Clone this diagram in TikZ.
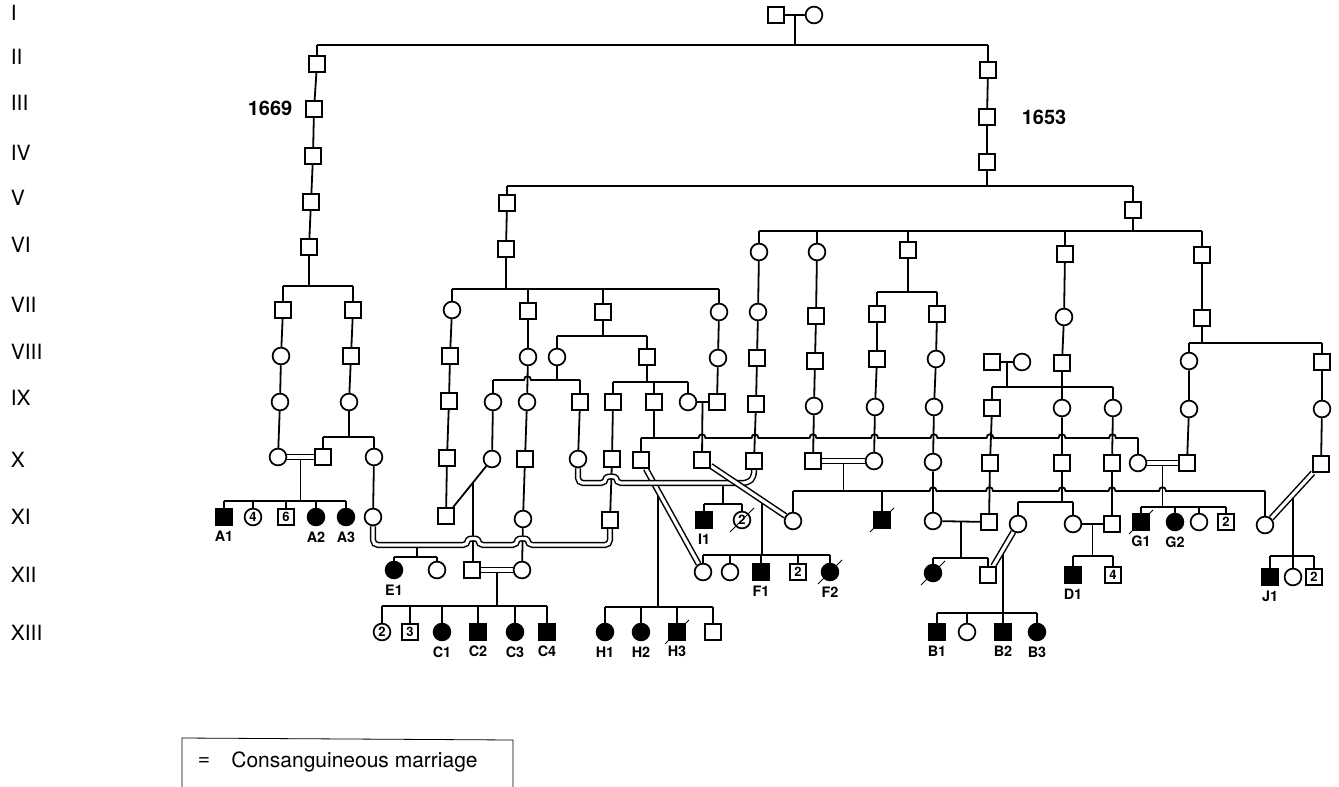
\documentclass[tikz,border=0pt]{standalone}
\usepackage{fontspec}
\setmainfont{TeX Gyre Heros}
\usetikzlibrary{calc,backgrounds}
\newcommand\kids[2]{\path (0,#1) coordinate (kidsy);\foreach \n in {#2}{\draw (\n.north) -- (\n.north |- kidsy);}}
\newcommand\sibbar[4]{\draw (#2,#1) -- (#3,#1);\kids{#1}{#4}}
\newcommand\dropto[2]{\path (0,#2) coordinate (dropy);\draw (#1) -- (#1 |- dropy);}
\tikzset{
 sq/.style={draw,rectangle,minimum size=8pt,inner sep=0pt,fill=white,line width=0.85pt},
 ci/.style={draw,circle,minimum size=8.4pt,inner sep=0pt,fill=white,line width=0.85pt},
 aff/.style={fill=black},
 num/.style={font=\fontsize{6.5}{6.5}\selectfont\bfseries},
 lab/.style={font=\fontsize{7.2}{7.2}\selectfont\bfseries,inner sep=0pt,anchor=north},
 gen/.style={font=\fontsize{10.5}{10.5}\selectfont,anchor=west,inner sep=0pt},
 yr/.style={font=\fontsize{10}{10}\selectfont\bfseries,inner sep=0pt},
 leg/.style={font=\fontsize{10.5}{10.5}\selectfont,inner sep=0pt},
 cons/.style={double=white,double distance=1.6pt,line width=0.75pt},
}
\begin{document}
\begin{tikzpicture}[x=0.5pt,y=-0.5pt,line width=0.9pt]
\useasboundingbox (0,0) rectangle (1339,787);
% generation numerals
\foreach \t/\y in {I/13,II/57,III/103,IV/153,V/198,VI/245,VII/305,VIII/352,IX/398,X/460,XI/517,XII/575,XIII/633}
  \node[gen] (gen\t) at (10,\y) {\t};
% open squares
\foreach \n/\x/\y in {a776/776/15,b317/317/64,b988/988/70,c314/314/109,c987/987/117,d313/313/156,d987/987/162,
 e311/311/202,e507/507/203,e1133/1133/210,f309/309/247,f506/506/249,f908/908/250,f1065/1065/254,f1202/1202/255,
 g283/283/310,g353/353/310,g528/528/311,g603/603/312,g816/816/316,g877/877/314,g937/937/314,g1202/1202/318,
 h351/351/356,h450/450/356,h647/647/357,h757/757/358,h815/815/361,h877/877/359,h992/992/362,h1062/1062/363,h1322/1322/362,
 i449/449/401,i580/580/402,i613/613/402,i654/654/402,i717/717/402,i756/756/404,i992/992/408,
 j323/323/457,j447/447/458,j525/525/459,j612/612/459,j641/641/460,j702/702/460,j754/754/461,j813/813/461,j990/990/463,
 j1062/1062/463,j1112/1112/463,j1187/1187/463,j1321/1321/464,
 k446/446/516,k610/610/520,k989/989/522,k1112/1112/524,l472/472/570,l988/988/575,m713/713/632}
  \node[sq] (\n) at (\x,\y) {};
% open circles
\foreach \n/\x/\y in {a815/814/15,f759/759/252,f817/817/252,g452/452/310,g719/719/312,g758/758/312,g1064/1064/317,
 h281/281/356,h528/528/357,h557/557/357,h718/718/358,h936/936/359,h1022/1022/362,h1189/1189/361,
 i280/280/402,i349/349/402,i493/493/402,i527/527/402,i688/688/402,i814/814/406,i875/875/407,i934/934/407,
 i1062/1062/408,i1113/1113/408,i1189/1189/409,i1322/1322/409,
 j278/278/457,j374/374/457,j492/492/459,j578/578/459,j874/874/461,j933/933/462,j1138/1138/463,
 k373/373/517,k523/523/519,k793/793/521,k933/933/521,k1018/1018/524,k1073/1073/524,k1199/1199/522,k1265/1265/525,
 l437/437/570,l522/522/570,l703/703/572,l730/730/572,l1293/1293/577,m967/967/632}
  \node[ci] (\n) at (\x,\y) {};
% affected
\foreach \n/\x/\y in {k224/224/517,k704/704/520,k882/882/520,k1140/1141/522,l761/761/572,l1073/1073/575,l1270/1270/577,
 m478/478/632,m547/547/632,m677/677/632,m937/937/632,m1003/1003/632}
  \node[sq,aff] (\n) at (\x,\y) {};
\foreach \n/\x/\y in {k316/316/517,k346/346/517,k1175/1175/522,l394/394/570,l830/830/572,l933/933/573,
 m442/442/632,m515/515/632,m605/605/632,m641/641/632,m1037/1037/632}
  \node[ci,aff] (\n) at (\x,\y) {};
% numbered
\foreach \n/\x/\y/\k in {k286/286/517/6,k1226/1226/522/2,l798/798/572/2,l1113/1113/575/4,l1314/1314/577/2,m410/410/632/3}
  \node[sq,num] (\n) at (\x,\y) {\k};
\foreach \n/\x/\y/\k in {k253/253/517/4,k742/742/520/2,m382/382/632/2}
  \node[ci,num] (\n) at (\x,\y) {\k};
% junction points on marriage lines
\coordinate (mB) at ($(k1018)!0.5!(l988)$);
\coordinate (mJ) at ($(k1265)!0.5!(j1321)$);
\coordinate (mH) at ($(j641)!0.274!(l703)$);
\coordinate (mF) at ($(j702)!0.66!(k793)$);
\coordinate (mC) at ($(k446)!0.587!(j492)$);
\begin{pgfonlayer}{background}
\begin{scope}[line width=0.9pt]
% I
\draw (a776) -- (a815);
\draw ($(a776)!0.5!(a815)$) -- ++(0,30);
\sibbar{45}{317}{988}{b317,b988}
% left line
\draw (b317) -- (c314) -- (d313) -- (e311) -- (f309);
\dropto{f309}{286}
\sibbar{286}{283}{353}{g283,g353}
\draw (g283) -- (h281) -- (i280) -- (j278);
\draw (g353) -- (h351) -- (i349);
\dropto{i349}{437}
\sibbar{437}{323}{374}{j323,j374}
\draw ($(j278)!0.5!(j323)$) -- ++(0,44);
\sibbar{501}{224}{346}{k224,k253,k286,k316,k346}
\draw (j374) -- (k373);
% right line
\draw (b988) -- (c987) -- (d987);
\dropto{d987}{186}
\sibbar{186}{507}{1133}{e507,e1133}
\draw (e507) -- (f506);
\dropto{f506}{289}
\sibbar{289}{452}{719}{g452,g528,g603,g719}
\dropto{e1133}{231}
\sibbar{231}{759}{1202}{f759,f817,f908,f1065,f1202}
\draw (g452) -- (h450) -- (i449) -- (j447) -- (k446);
\draw (g528) -- (h528) -- (i527) -- (j525) -- (k523) -- (l522);
\dropto{g603}{336}
\sibbar{336}{557}{647}{h557,h647}
\dropto{h557}{380}
\draw (493,380) -- (524,380) .. controls (524,375) and (531,375) .. (531,380) -- (580,380);
\kids{380}{i493,i580}
\dropto{h647}{382}
\sibbar{382}{613}{688}{i613,i654,i688}
\draw (g719) -- (h718) -- (i717);
\draw (i688) -- (i717);
\draw ($(i688)!0.5!(i717)$) -- (j702);
\draw (i493) -- (j492);
\draw (i580) -- (j578);
\draw (i613) -- (j612) -- (k610);
\dropto{i654}{438}
\draw (641,438) -- (698.5,438) .. controls (698.5,433) and (705.5,433) .. (705.5,438)
 -- (751.5,438) .. controls (751.5,433) and (758.5,433) .. (758.5,438)
 -- (809.5,438) .. controls (809.5,433) and (816.5,433) .. (816.5,438)
 -- (871,438) .. controls (871,433) and (878,433) .. (878,438)
 -- (930.5,438) .. controls (930.5,433) and (937.5,433) .. (937.5,438)
 -- (986.5,438) .. controls (986.5,433) and (993.5,433) .. (993.5,438)
 -- (1058.5,438) .. controls (1058.5,433) and (1065.5,433) .. (1065.5,438)
 -- (1109,438) .. controls (1109,433) and (1116,433) .. (1116,438) -- (1138,438);
\kids{438}{j641,j1138}
\draw (f759) -- (g758) -- (h757) -- (i756) -- (j754);
\draw (f817) -- (g816) -- (h815) -- (i814) -- (j813);
\dropto{f908}{292}
\sibbar{292}{877}{937}{g877,g937}
\draw (g877) -- (h877) -- (i875) -- (j874);
\draw (g937) -- (h936) -- (i934) -- (j933) -- (k933);
\draw (h992) -- (h1022);
\draw ($(h992)!0.5!(h1022)$) -- ++(0,25);
\sibbar{387}{992}{1113}{i992,i1113}
\draw (i992) -- (j990) -- (k989);
\draw (f1065) -- (g1064) -- (h1062) -- (i1062) -- (j1062);
\dropto{j1062}{502}
\sibbar{502}{1018}{1073}{k1018,k1073}
\draw (i1113) -- (j1112) -- (k1112);
\draw (f1202) -- (g1202);
\dropto{g1202}{343}
\sibbar{343}{1189}{1322}{h1189,h1322}
\draw (h1189) -- (i1189) -- (j1187);
\draw (h1322) -- (i1322) -- (j1321);
\draw ($(j1138)!0.5!(j1187)$) -- ++(0,44);
\sibbar{507}{1141}{1226}{k1140,k1175,k1199,k1226}
\draw ($(j813)!0.5!(j874)$) -- ++(0,30);
\draw (793,491) -- (929.5,491) .. controls (929.5,486) and (936.5,486) .. (936.5,491)
 -- (986,491) .. controls (986,486) and (993,486) .. (993,491)
 -- (1058.5,491) .. controls (1058.5,486) and (1065.5,486) .. (1065.5,491)
 -- (1108.5,491) .. controls (1108.5,486) and (1115.5,486) .. (1115.5,491)
 -- (1159,491) .. controls (1159,486) and (1166,486) .. (1166,491) -- (1265,491);
\kids{491}{k793,k882,k1265}
\draw (k933) -- (k989);
\draw ($(k933)!0.5!(k989)$) -- ++(0,36.5);
\sibbar{558}{933}{988}{l933,l988}
\dropto{mB}{613}
\sibbar{613}{937}{1037}{m937,m967,m1003,m1037}
\draw (k1073) -- (k1112);
\draw ($(k1073)!0.5!(k1112)$) -- ++(0,32);
\sibbar{556}{1073}{1113}{l1073,l1113}
\dropto{mJ}{556}
\sibbar{556}{1270}{1314}{l1270,l1293,l1314}
\draw (723,483) -- (723,504);
\sibbar{504}{704}{742}{k704,k742}
\dropto{mH}{607}
\sibbar{607}{605}{713}{m605,m641,m677,m713}
\dropto{mF}{555}
\sibbar{555}{703}{830}{l703,l730,l761,l798,l830}
\draw (417,545) -- (417,557);
\sibbar{557}{394}{437}{l394,l437}
\draw (k446) -- (j492);
\draw (mC) -- (mC |- l472.north);
\draw ($(l472)!0.5!(l522)$) -- ++(0,36);
\sibbar{606}{382}{547}{m382,m410,m442,m478,m515,m547}
% consanguineous marriages
\draw[cons] (j278) -- (j323);
\draw[cons] (j1138) -- (j1187);
\draw[cons] (j813) -- (j874);
\draw[cons] (l472) -- (l522);
\draw[cons] (k1018) -- (l988);
\draw[cons] (k1265) -- (j1321);
\draw[cons] (j641) -- (l703);
\draw[cons,rounded corners=2.5pt] (j578) -- (578,483) -- (606,483) .. controls (606,476) and (616,476) .. (616,483) -- (748,483) -- (754,477) -- (j754);
\draw[cons] (j702) -- (k793);
\draw[cons,rounded corners=2.5pt] (k373) -- (373,545) -- (468,545) .. controls (468,538) and (478,538) .. (478,545)
 -- (517.5,545) .. controls (517.5,538) and (527.5,538) .. (527.5,545) -- (610,545) -- (k610);
\end{scope}
\end{pgfonlayer}
% deceased slashes
\foreach \n in {k742,k882,k1140,l830,l933,m677}
  \draw ([shift={(-12,12)}]\n.center) -- ([shift={(12,-12)}]\n.center);
% labels
\foreach \n/\t in {k224/A1,k316/A2,k346/A3,l394/E1,m442/C1,m478/C2,m515/C3,m547/C4,m605/H1,m641/H2,m677/H3,
 k704/I1,l761/F1,l830/F2,k1140/G1,k1175/G2,l1073/D1,l1270/J1,m937/B1,m1003/B2,m1037/B3}
  \node[lab] (L\t) at ([yshift=-2.5pt]\n.south) {\t};
\node[yr] (y1669) at (270,108) {1669};
\node[yr] (y1653) at (1044,117) {1653};
% legend
\draw (182,787) -- (182,738) -- (513,740) -- (513,787);
\node[leg] (legeq) at (204,762) {=};
\node[leg,anchor=west] (legtxt) at (231,762) {Consanguineous marriage};
\end{tikzpicture}
\end{document}
